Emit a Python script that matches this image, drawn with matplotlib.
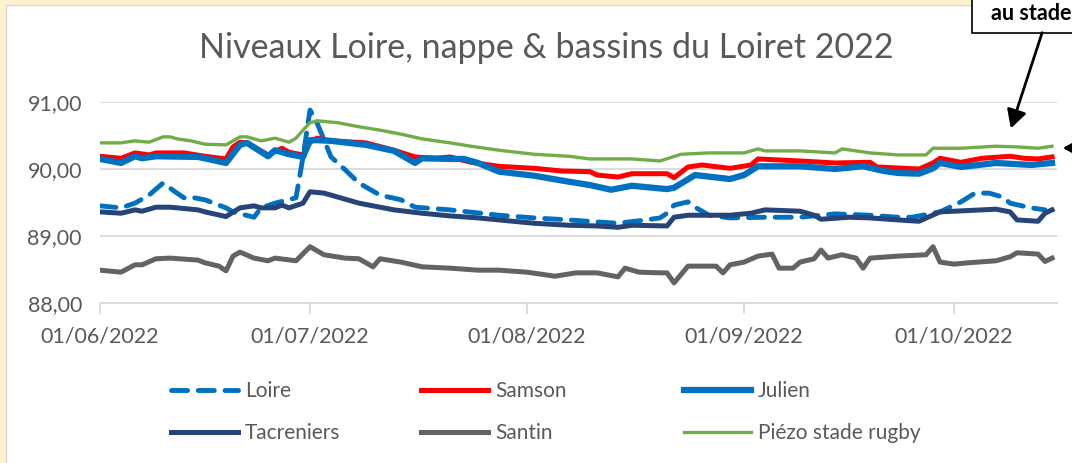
import numpy as np
import matplotlib
matplotlib.use('Agg')
import matplotlib.pyplot as plt
import matplotlib.dates as mdates
from matplotlib.patches import Rectangle, FancyArrowPatch

plt.rcParams['font.family'] = ['Lato', 'DejaVu Sans']

debut = np.datetime64('2022-06-01')

# jours depuis le 01/06/2022 et niveaux (m)
loire_j = [0, 3, 5, 7, 9, 11, 12, 13, 15, 18, 19, 22, 23, 25, 28, 29, 30, 31, 33, 35, 37, 40, 43, 45,
           50, 57, 62, 67, 71, 74, 78, 80, 81, 82, 84, 85, 87, 90, 95, 100, 105, 110, 114, 116, 120,
           123, 125, 127, 129, 130, 133, 135]
loire = [89.45, 89.42, 89.49, 89.61, 89.79, 89.64, 89.57, 89.58, 89.54, 89.42, 89.36, 89.28, 89.42,
         89.49, 89.57, 90.18, 90.88, 90.69, 90.18, 89.99, 89.79, 89.61, 89.54, 89.43, 89.39, 89.31,
         89.27, 89.24, 89.21, 89.19, 89.24, 89.27, 89.34, 89.46, 89.51, 89.43, 89.31, 89.27, 89.28,
         89.28, 89.33, 89.31, 89.28, 89.28, 89.36, 89.51, 89.64, 89.64, 89.58, 89.49, 89.42, 89.39]

samson_j = [0, 3, 5, 7, 8, 12, 15, 18, 19, 20, 21, 24, 26, 27, 29, 30, 31, 33, 38, 42, 45, 48, 50, 53,
            57, 62, 66, 70, 71, 74, 76, 81, 82, 84, 86, 90, 93, 94, 100, 105, 110, 111, 117, 119, 120,
            123, 126, 130, 132, 134, 136]
samson = [90.19, 90.16, 90.24, 90.21, 90.24, 90.24, 90.19, 90.15, 90.33, 90.40, 90.39, 90.21, 90.31,
          90.25, 90.21, 90.40, 90.46, 90.42, 90.39, 90.28, 90.18, 90.16, 90.18, 90.10, 90.04, 90.01,
          89.97, 89.96, 89.91, 89.88, 89.93, 89.93, 89.87, 90.03, 90.06, 90.01, 90.06, 90.15, 90.12,
          90.09, 90.10, 90.03, 90.00, 90.09, 90.16, 90.10, 90.16, 90.19, 90.16, 90.15, 90.18]

julien_j = [0, 3, 5, 6, 8, 14, 18, 20, 21, 24, 25, 27, 29, 30, 31, 33, 38, 42, 45, 46, 50, 52, 54, 57,
            62, 67, 70, 73, 76, 81, 82, 85, 90, 92, 94, 100, 105, 109, 112, 114, 117, 119, 120, 123,
            128, 133, 136]
julien = [90.15, 90.09, 90.19, 90.16, 90.19, 90.18, 90.09, 90.36, 90.39, 90.19, 90.28, 90.22, 90.18,
          90.43, 90.43, 90.42, 90.36, 90.27, 90.09, 90.16, 90.15, 90.15, 90.09, 89.96, 89.90, 89.81,
          89.76, 89.69, 89.75, 89.70, 89.72, 89.91, 89.85, 89.91, 90.04, 90.04, 90.00, 90.04, 89.97,
          89.94, 89.93, 90.01, 90.09, 90.03, 90.09, 90.06, 90.09]

tacreniers_j = [0, 3, 5, 6, 8, 10, 14, 15, 18, 20, 22, 23, 25, 26, 27, 29, 30, 32, 34, 37, 40, 42, 46,
                50, 54, 57, 62, 67, 71, 74, 76, 81, 82, 84, 90, 93, 95, 100, 102, 103, 107, 110, 114,
                117, 120, 126, 128, 130, 131, 134, 135, 136]
tacreniers = [89.36, 89.34, 89.39, 89.37, 89.43, 89.43, 89.39, 89.36, 89.29, 89.42, 89.45, 89.42,
              89.42, 89.46, 89.42, 89.49, 89.66, 89.64, 89.58, 89.49, 89.43, 89.39, 89.34, 89.30,
              89.27, 89.24, 89.19, 89.16, 89.15, 89.13, 89.16, 89.15, 89.28, 89.31, 89.31, 89.34,
              89.39, 89.37, 89.31, 89.25, 89.28, 89.27, 89.24, 89.22, 89.36, 89.39, 89.40, 89.36,
              89.24, 89.22, 89.34, 89.39]

santin_j = [0, 3, 5, 6, 8, 10, 14, 15, 17, 18, 19, 20, 22, 24, 25, 28, 30, 32, 35, 37, 39, 40, 43, 46,
            50, 54, 57, 61, 65, 68, 71, 74, 75, 77, 80, 81, 82, 84, 88, 89, 90, 92, 94, 96, 97, 99,
            100, 102, 103, 104, 106, 108, 109, 110, 114, 118, 119, 120, 122, 124, 128, 130, 131, 134,
            135, 136]
santin = [88.49, 88.46, 88.57, 88.57, 88.66, 88.67, 88.64, 88.60, 88.55, 88.48, 88.70, 88.76, 88.67,
          88.63, 88.67, 88.63, 88.84, 88.72, 88.67, 88.66, 88.54, 88.66, 88.61, 88.54, 88.52, 88.49,
          88.49, 88.46, 88.40, 88.45, 88.45, 88.39, 88.52, 88.46, 88.45, 88.45, 88.30, 88.55, 88.55,
          88.45, 88.57, 88.61, 88.70, 88.73, 88.52, 88.52, 88.61, 88.66, 88.79, 88.67, 88.72, 88.67,
          88.52, 88.67, 88.70, 88.72, 88.84, 88.61, 88.58, 88.60, 88.63, 88.69, 88.75, 88.73, 88.62,
          88.67]

piezo_j = [0, 3, 5, 7, 9, 10, 11, 13, 15, 18, 20, 21, 23, 25, 27, 28, 29, 30, 31, 34, 37, 40, 43, 46,
           50, 53, 57, 62, 67, 70, 76, 80, 83, 87, 92, 94, 95, 100, 105, 106, 110, 114, 118, 119, 123,
           128, 131, 134, 136]
piezo = [90.39, 90.39, 90.42, 90.40, 90.48, 90.48, 90.45, 90.42, 90.37, 90.36, 90.48, 90.48, 90.42,
         90.46, 90.40, 90.46, 90.58, 90.69, 90.72, 90.69, 90.63, 90.58, 90.52, 90.45, 90.39, 90.34,
         90.28, 90.22, 90.19, 90.15, 90.15, 90.12, 90.22, 90.24, 90.24, 90.30, 90.27, 90.27, 90.24,
         90.30, 90.24, 90.21, 90.21, 90.31, 90.31, 90.34, 90.33, 90.31, 90.34]


def jours(j):
    return debut + np.array(j).astype('timedelta64[D]')


W, H = 1072, 463
fig = plt.figure(figsize=(W / 100, H / 100), dpi=100, facecolor='#FFF2CC')
fig.patches.append(Rectangle((6 / W, -0.05), 1.1, 1.05 - 5 / H, transform=fig.transFigure,
                             fc='white', ec='#D9D9D9', lw=1, zorder=-10))

ax = fig.add_axes([100 / W, 1 - 303 / H, 957 / W, 201 / H])
ax.set_facecolor('none')

ax.plot(jours(loire_j), loire, color='#0070C0', lw=3.5, ls=(0, (3.3, 2.2)),
        dash_capstyle='round', label='Loire')
ax.plot(jours(samson_j), samson, color='#FF0000', lw=3.6, label='Samson')
ax.plot(jours(julien_j), julien, color='#0070C0', lw=4.5, label='Julien')
ax.plot(jours(tacreniers_j), tacreniers, color='#264478', lw=3.6, label='Tacreniers')
ax.plot(jours(santin_j), santin, color='#636363', lw=3.6, label='Santin')
ax.plot(jours(piezo_j), piezo, color='#70AD47', lw=2.4, label='Piézo stade rugby')

ax.set_ylim(88, 91)
ax.set_yticks([88, 89, 90, 91])
ax.yaxis.set_major_formatter(lambda v, p: f'{v:.2f}'.replace('.', ','))
ax.set_xlim(debut, debut + np.timedelta64(3281, 'h'))
ax.xaxis.set_major_locator(mdates.MonthLocator())
ax.xaxis.set_major_formatter(mdates.DateFormatter('%d/%m/%Y'))
ax.grid(axis='y', color='#D9D9D9', lw=1.3)
ax.set_axisbelow(True)
for s in ['top', 'right', 'left']:
    ax.spines[s].set_visible(False)
ax.spines['bottom'].set_color('#D9D9D9')
ax.spines['bottom'].set_linewidth(1.3)
ax.tick_params(axis='x', length=8, color='#D9D9D9', width=1.3, labelsize=15.5,
               labelcolor='#595959', pad=9)
ax.tick_params(axis='y', length=0, labelsize=15.5, labelcolor='#595959', pad=13)

fig.text(546 / W, 1 - 48 / H, 'Niveaux Loire, nappe & bassins du Loiret 2022',
         ha='center', va='center', fontsize=24.5, color='#595959')

lignes = ax.get_lines()
for x0, idx in [(171, [0, 3]), (421, [1, 4]), (684, [2, 5])]:
    fig.legend([lignes[i] for i in idx], [lignes[i].get_label() for i in idx],
               loc='center left', bbox_to_anchor=(x0 / W, 1 - 412 / H), frameon=False,
               fontsize=15, handlelength=3.2, handletextpad=0.35, labelspacing=1.05,
               borderpad=0, borderaxespad=0, labelcolor='#595959')

# encadré et flèches en haut à droite
fig.patches.append(Rectangle((972 / W, 1 - 33 / H), 0.2, 0.2, transform=fig.transFigure,
                             fc='white', ec='black', lw=1.2))
fig.text(991 / W, 1 - 13 / H, 'au stade', fontweight='bold', fontsize=15.5, color='black',
         ha='left', va='center')
fig.patches.append(FancyArrowPatch((1043 / W, 1 - 30 / H), (1010 / W, 1 - 131 / H),
                                   transform=fig.transFigure, color='black', lw=2,
                                   arrowstyle='-|>,head_length=0.55,head_width=0.3',
                                   mutation_scale=20))
fig.patches.append(FancyArrowPatch((1100 / W, 1 - 148 / H), (1060 / W, 1 - 148 / H),
                                   transform=fig.transFigure, color='black', lw=2,
                                   arrowstyle='-|>,head_length=0.55,head_width=0.3',
                                   mutation_scale=20))

fig.savefig('out.png', dpi=100, facecolor=fig.get_facecolor())
